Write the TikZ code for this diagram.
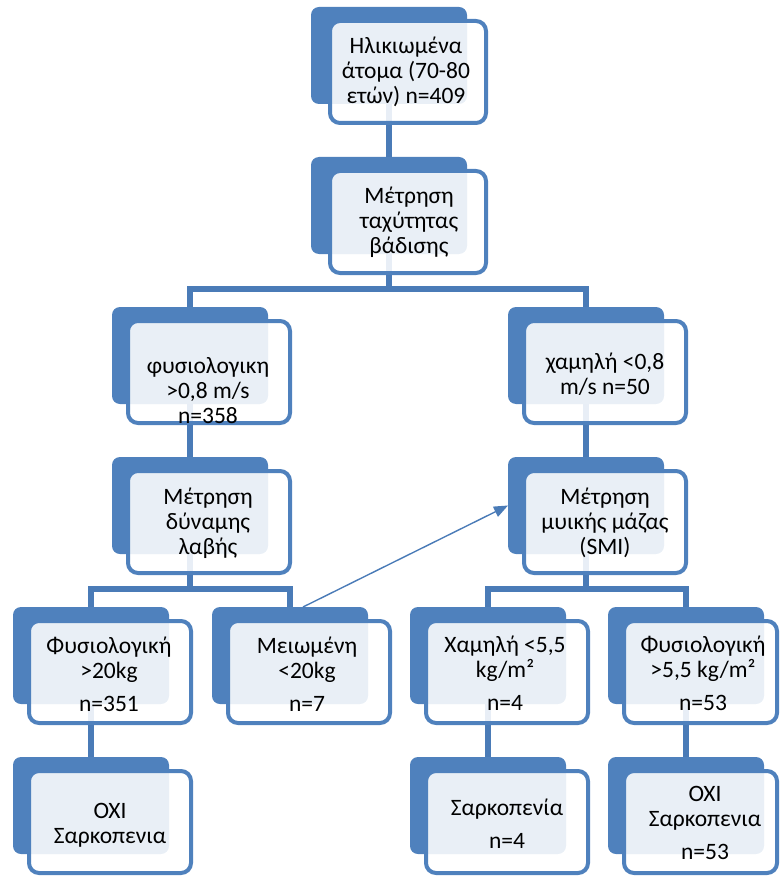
\documentclass[tikz,border=0pt]{standalone}
\usepackage{fontspec}
\setmainfont{Carlito}
\usetikzlibrary{arrows.meta}
\definecolor{myblue}{HTML}{4F81BD}
\definecolor{lineblue}{HTML}{4A7BB7}
\pgfdeclarelayer{bg}
\pgfsetlayers{bg,main}
\tikzset{
  backbox/.style={fill=myblue, rounded corners=8pt, minimum width=156pt, minimum height=97pt, inner sep=0pt, outer sep=0pt, anchor=north west},
  frontbox/.style={draw=myblue, line width=4pt, fill=white, fill opacity=0.88, draw opacity=1, rounded corners=10pt, minimum height=102pt, inner sep=0pt, outer sep=0pt, anchor=north west},
  conn/.style={draw=lineblue, line width=5.5pt, line join=miter},
  arrowline/.style={draw=lineblue, line width=1.4pt, -{Triangle[length=14pt,width=11pt]}},
  txt/.style={align=center, font=\fontsize{23.5}{25}\selectfont, text=black, inner sep=0pt}
}
\newcommand\drawpair[5]{%
  \node[backbox] (#1) at (#2,#3) {};
  \node[frontbox, minimum width=#5pt] (#1f) at (#4,#3+14) {};
}
\begin{document}
\begin{tikzpicture}[x=1pt,y=-1pt]
\useasboundingbox (0,0) rectangle (781,877);
% boxes
\drawpair{b1}{311}{7}{330}{156}
\drawpair{b2}{311}{157}{330}{156}
\drawpair{b3}{112}{307}{128}{162}
\drawpair{b4}{508}{307}{524}{162}
\drawpair{b5}{112}{457}{128}{162}
\drawpair{b6}{508}{457}{524}{162}
\drawpair{b7}{13}{607}{29}{162}
\drawpair{b8}{212}{607}{228}{162}
\drawpair{b9}{410}{607}{426}{162}
\drawpair{b10}{608}{607}{624}{153}
\drawpair{b11}{13}{757}{29}{162}
\drawpair{b12}{410}{757}{426}{162}
\drawpair{b13}{608}{757}{624}{153}
% texts
\node[txt] (t1) at (406,72) {Ηλικιωμένα\\άτομα (70-80\\ετών) n=409};
\node[txt] (t2) at (409,222) {Μέτρηση\\ταχύτητας\\βάδισης};
\node[txt] (t3) at (208,391) {φυσιολογικη\\>0,8 m/s\\n=358};
\node[txt] (t4) at (605,374) {χαμηλή <0,8\\m/s n=50};
\node[txt] (t5) at (208,523) {Μέτρηση\\δύναμης\\λαβής};
\node[txt] (t6) at (605,523) {Μέτρηση\\μυικής μάζας\\(SMI)};
\node[txt] (t7) at (109,674) {Φυσιολογική\\>20kg\\[8pt]n=351};
\node[txt] (t8) at (307,674) {Μειωμένη\\<20kg\\[8pt]n=7};
\node[txt] (t9) at (505,673) {Χαμηλή <5,5\\kg/m²\\[8pt]n=4};
\node[txt] (t10) at (703,673) {Φυσιολογική\\>5,5 kg/m²\\[8pt]n=53};
\node[txt] (t11) at (110,825) {ΟΧΙ\\Σαρκοπενια};
\node[txt] (t12) at (507,824) {Σαρκοπενία\\[8pt]n=4};
\node[txt] (t13) at (705,823) {ΟΧΙ\\Σαρκοπενια\\[8pt]n=53};
% connectors
\coordinate (j1) at (389,289);
\coordinate (j2) at (190,589);
\coordinate (j3) at (586,589);
\begin{pgfonlayer}{bg}
\draw[conn] (b1.south) -- (b2.north);
\draw[conn] (b2.south) -- (j1);
\draw[conn] (b3.north) |- (j1) -| (b4.north);
\draw[conn] (b3.south) -- (b5.north);
\draw[conn] (b4.south) -- (b6.north);
\draw[conn] (b5.south) -- (j2);
\draw[conn] (b7.north) |- (j2) -| (b8.north);
\draw[conn] (b6.south) -- (j3);
\draw[conn] (b9.north) |- (j3) -| (b10.north);
\draw[conn] (b7.south) -- (b11.north);
\draw[conn] (b9.south) -- (b12.north);
\draw[conn] (b10.south) -- (b13.north);
\end{pgfonlayer}
\draw[arrowline] ([xshift=13pt]b8.north) -- (b6.west);
\end{tikzpicture}
\end{document}
